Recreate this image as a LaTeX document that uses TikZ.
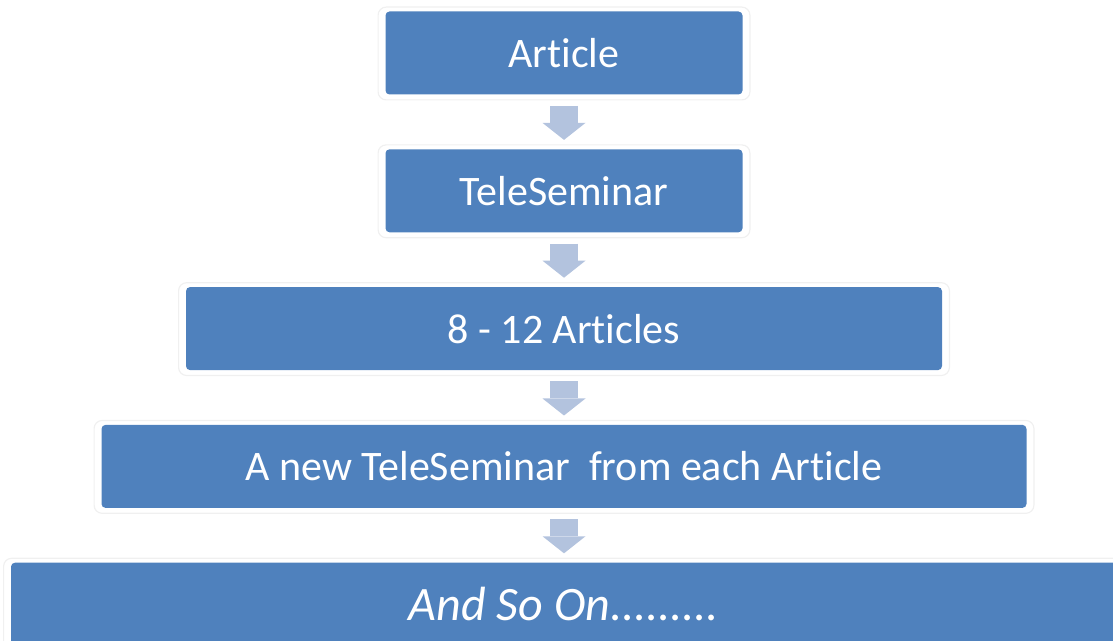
\documentclass[tikz,border=0pt]{standalone}
\usepackage{fontspec}
\setmainfont[Ligatures=NoCommon]{Carlito}
\usepackage{tikz}
\usetikzlibrary{calc}
\usetikzlibrary{arrows.meta}
\usetikzlibrary{positioning}
\definecolor{box-blue}{HTML}{4F81BD}
\definecolor{arrow-blue}{HTML}{B3C3DE}
\definecolor{halo-gray}{gray}{0.94}

\begin{document}
\begin{tikzpicture}
  [
    x = 0.5pt, y = -0.5pt,
    node distance = 27pt,
    stage/.style = {fill=box-blue, text=white, rounded corners=2pt,
                    minimum height=41.5pt, inner sep=0pt,
                    font=\fontsize{21}{25}\selectfont},
    halo/.style = {draw=halo-gray, line width=0.6pt, rounded corners=4pt},
    flow/.style = {draw=arrow-blue, line width=14pt,
                   -{Triangle[width=21.5pt, length=8.5pt, line width=0pt]}}
  ]
% Frame (pixels of the page)
\useasboundingbox (0, 0) rectangle (1113, 641);

% ---------------------------------------------------
% Stages
\node[stage, minimum width=178.5pt] (art) at (564, 53) {Article};
\node[stage, minimum width=178.5pt, below=of art] (tele) {TeleSeminar};
\node[stage, minimum width=378pt, below=of tele] (arts) {8 - 12 Articles};
\node[stage, minimum width=462.5pt, below=of arts] (newtele)
     {A new TeleSeminar\hspace{0.45em}from each Article};
\node[stage, minimum width=553pt, below=of newtele,
      font=\fontsize{24}{28}\selectfont\itshape] (more)
     {And So On.........};

% Faint outline round each stage
\foreach \n in {art, tele, arts, newtele, more}
  \draw[halo] ([shift={(-3.5pt, 2pt)}]\n.north west)
        rectangle ([shift={(3.5pt, -2.5pt)}]\n.south east);

% Block arrows
\draw[flow] ([yshift=-5.5pt]art.south)     -- ([yshift=4.5pt]tele.north);
\draw[flow] ([yshift=-5.5pt]tele.south)    -- ([yshift=4.5pt]arts.north);
\draw[flow] ([yshift=-5.5pt]arts.south)    -- ([yshift=4.5pt]newtele.north);
\draw[flow] ([yshift=-5.5pt]newtele.south) -- ([yshift=4.5pt]more.north);
% ---------------------------------------------------
\end{tikzpicture}
\end{document}
